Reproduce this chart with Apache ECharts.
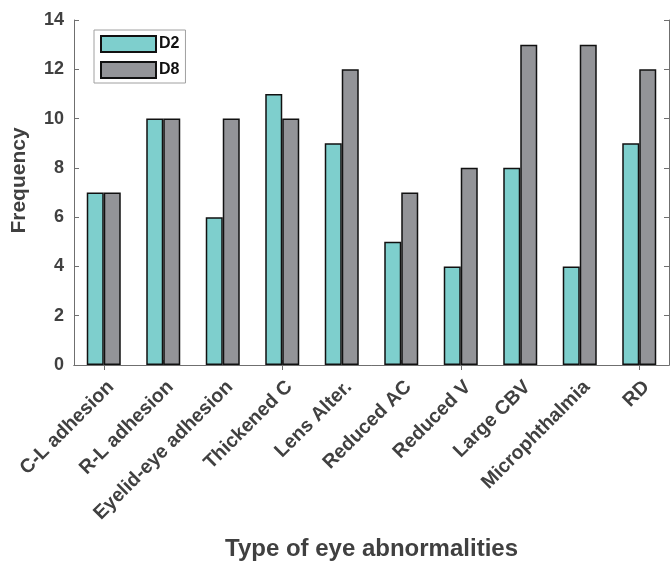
<!DOCTYPE html>
<html>
<head>
<meta charset="utf-8">
<title>Eye abnormalities</title>
<script src="https://cdn.jsdelivr.net/npm/echarts@6/dist/echarts.min.js"></script>
<style>
  html, body { margin: 0; padding: 0; background: #fff; }
  #chart { width: 670px; height: 561px; }
</style>
</head>
<body>
<div id="chart"></div>
<script>
var categories = ["C-L adhesion", "R-L adhesion", "Eyelid-eye adhesion", "Thickened C", "Lens Alter.",
    "Reduced AC", "Reduced V", "Large CBV", "Microphthalmia", "RD"];
var d2 = [7, 10, 6, 11, 9, 5, 4, 8, 4, 9];
var d8 = [7, 10, 10, 10, 12, 7, 8, 13, 13, 12];

var font = "'Liberation Sans', Arial, Helvetica, sans-serif";
var axisGray = "#6f6f6f";
var textGray = "#404040";

var chart = echarts.init(document.getElementById("chart"));

chart.setOption({
    animation: false,
    textStyle: { fontFamily: font },
    grid: { left: 74, right: 1, top: 20, bottom: 196, containLabel: false, outerBoundsMode: "none" },
    legend: {
        orient: "vertical",
        left: 94,
        top: 30,
        icon: "rect",
        itemWidth: 55,
        itemHeight: 16,
        itemGap: 8,
        padding: [5, 6, 4, 6],
        backgroundColor: "#fff",
        borderColor: "#a0a0a0",
        borderWidth: 1,
        borderRadius: 0,
        textStyle: { fontFamily: font, fontWeight: "bold", fontSize: 16, color: "#111", padding: [0, 0, 0, -2] },
        data: ["D2", "D8"]
    },
    xAxis: [{
        type: "category",
        data: categories,
        position: "bottom",
        axisLine: { lineStyle: { color: axisGray, width: 1 } },
        axisTick: { show: true, inside: true, alignWithLabel: true, length: 5, lineStyle: { color: axisGray } },
        axisLabel: {
            interval: 0, rotate: 45, margin: 12, verticalAlign: "top",
            fontFamily: font, fontWeight: "bold", fontSize: 19.5, color: textGray
        },
        name: "Type of eye abnormalities",
        nameLocation: "middle",
        nameGap: 172,
        nameTextStyle: { fontFamily: font, fontWeight: "bold", fontSize: 24, color: textGray }
    }, {
        type: "category",
        data: categories,
        position: "top",
        axisLine: { lineStyle: { color: axisGray, width: 1 } },
        axisTick: { show: true, inside: true, alignWithLabel: true, length: 5, lineStyle: { color: axisGray } },
        axisLabel: { show: false }
    }],
    yAxis: [{
        type: "value",
        min: 0, max: 14, interval: 2,
        position: "left",
        axisLine: { show: true, lineStyle: { color: axisGray, width: 1 } },
        axisTick: { show: true, inside: true, length: 5, lineStyle: { color: axisGray } },
        splitLine: { show: false },
        axisLabel: { fontFamily: font, fontWeight: "bold", fontSize: 18, color: textGray, margin: 10 },
        name: "Frequency",
        nameLocation: "middle",
        nameGap: 44,
        nameTextStyle: { fontFamily: font, fontWeight: "bold", fontSize: 21, color: textGray, padding: [0, 0, 0, 24] }
    }, {
        type: "value",
        min: 0, max: 14, interval: 2,
        position: "right",
        axisLine: { show: true, lineStyle: { color: axisGray, width: 1 } },
        axisTick: { show: true, inside: true, length: 5, lineStyle: { color: axisGray } },
        splitLine: { show: false },
        axisLabel: { show: false }
    }],
    series: [{
        name: "D2",
        type: "bar",
        data: d2,
        barWidth: 17,
        barGap: "0%",
        itemStyle: { color: "#7ecfcd", borderColor: "#111", borderWidth: 1.5 }
    }, {
        name: "D8",
        type: "bar",
        data: d8,
        barWidth: 17,
        barGap: "0%",
        itemStyle: { color: "#939498", borderColor: "#111", borderWidth: 1.5 }
    }]
});
</script>
</body>
</html>
